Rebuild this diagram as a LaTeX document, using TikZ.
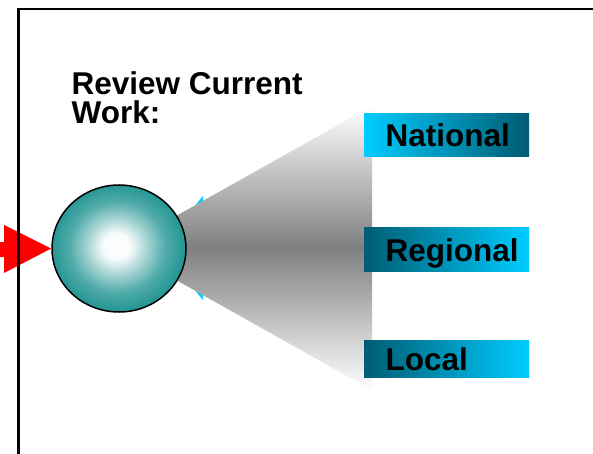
\documentclass[tikz,border=0pt]{standalone}
\usepackage{fontspec}
\setmainfont{Liberation Sans}
\usetikzlibrary{shapes.geometric}
\definecolor{cyanc}{RGB}{0,204,255}
\definecolor{darkc}{RGB}{0,92,114}
\definecolor{tealedge}{RGB}{36,150,148}
\definecolor{redc}{RGB}{255,0,0}
\pgfdeclareradialshading{myball}{\pgfpoint{-1bp}{1bp}}{%
  color(0bp)=(white); color(5bp)=(white!97!tealedge); color(11bp)=(tealedge!40!white);
  color(18bp)=(tealedge!80!white); color(25bp)=(tealedge); color(50bp)=(tealedge)}
\tikzset{
  lbl/.style={font=\fontsize{31.5}{31.5}\bfseries\selectfont, inner sep=0pt, text=black},
  boxlr/.style={rectangle, draw=none, inner sep=0pt, minimum width=165pt, left color=cyanc, right color=darkc},
  boxrl/.style={rectangle, draw=none, inner sep=0pt, minimum width=165pt, left color=darkc, right color=cyanc},
  frame/.style={draw=black, line width=2.4pt},
}
\begin{document}
\begin{tikzpicture}[x=1pt, y=-1pt]
\useasboundingbox (0,0) rectangle (593,454);
\clip (0,0) rectangle (593,454);
% cyan shape behind
\fill[cyanc] (203,196) -- (203,300) -- (160,248) -- cycle;
% cone
\shade[top color=white, bottom color=white, middle color=gray] (119,248) -- (372,106) -- (372,390) -- cycle;
% hub
\node[ellipse, draw=black, line width=1.5pt, shading=myball, minimum width=134pt, minimum height=127pt, inner sep=0pt] (hub) at (119,248.5) {};
% red arrow
\fill[redc] (0,242) -- (4,242) -- (4,225) -- (hub.west) -- (4,273) -- (4,257) -- (0,257) -- cycle;
% frame
\draw[frame] (18.5,480) -- (18.5,8.8) -- (620,8.8);
% title
\node[lbl, anchor=base west] (title1) at (71.5,95) {Review Current};
\node[lbl, anchor=base west] (title2) at (71.5,124) {Work:};
% boxes
\node[boxlr, minimum height=43pt] (nbox) at (446.5,135.5) {};
\node[boxrl, minimum height=44pt] (rbox) at (446.5,249) {};
\node[boxrl, minimum height=37pt] (lbox) at (446.5,358.5) {};
\node[lbl, anchor=base west] (ntext) at (385.5,147) {National};
\node[lbl, anchor=base west] (rtext) at (385.5,261) {Regional};
\node[lbl, anchor=base west] (ltext) at (385.5,370) {Local};
\end{tikzpicture}
\end{document}
